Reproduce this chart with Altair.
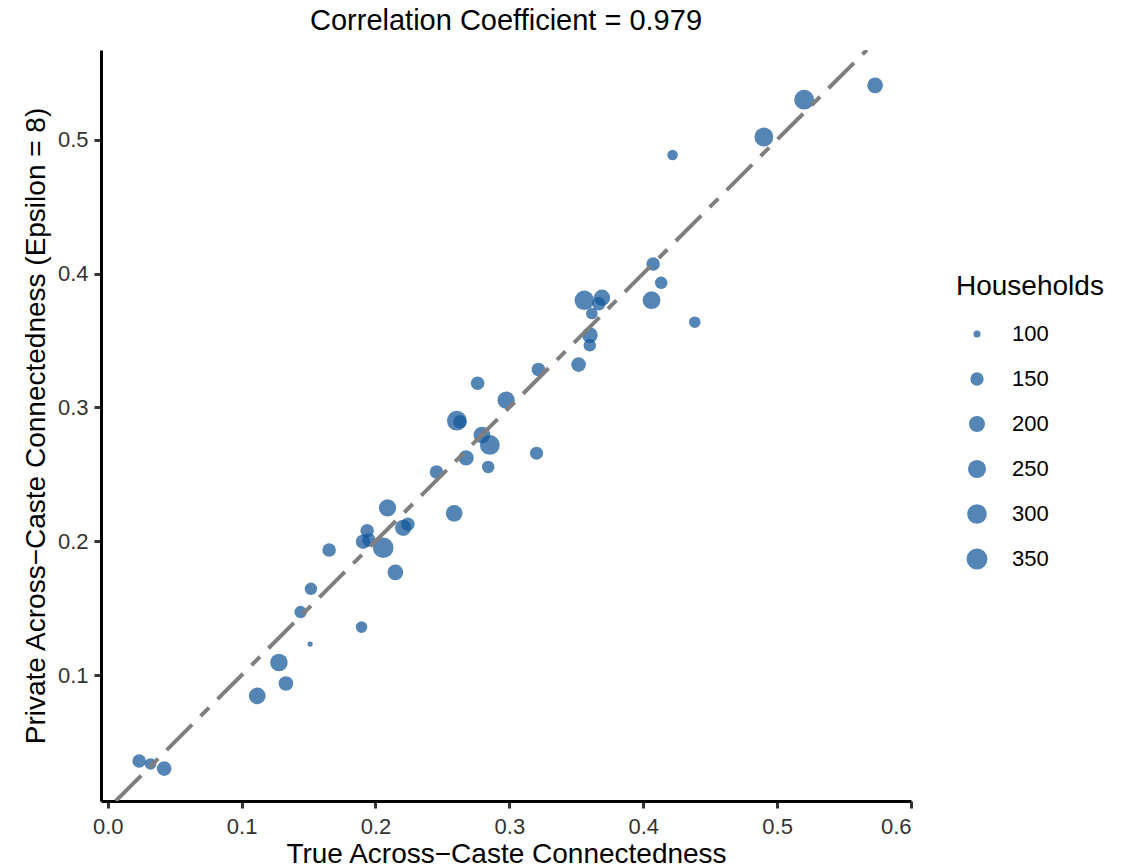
import altair as alt
import pandas as pd

# Village-level connectedness: true value vs. differentially private estimate
true_conn = [
    0.0235, 0.0320, 0.0422, 0.1117, 0.1331, 0.1279, 0.1512, 0.1896, 0.1441, 0.1518,
    0.1654, 0.1908, 0.1938, 0.1951, 0.2058, 0.2149, 0.2090, 0.2207, 0.2242, 0.2588,
    0.2456, 0.2677, 0.2842, 0.2795, 0.2854, 0.2608, 0.2630, 0.2763, 0.2976, 0.3203,
    0.3217, 0.3517, 0.3601, 0.3601, 0.3560, 0.3616, 0.3668, 0.3692, 0.4074, 0.4134,
    0.4062, 0.4385, 0.4219, 0.4901, 0.5202, 0.5732,
]
private_conn = [
    0.0359, 0.0337, 0.0302, 0.0845, 0.0938, 0.1095, 0.1232, 0.1359, 0.1471, 0.1645,
    0.1935, 0.1997, 0.2079, 0.2009, 0.1952, 0.1768, 0.2249, 0.2101, 0.2127, 0.2209,
    0.2518, 0.2624, 0.2555, 0.2794, 0.2720, 0.2901, 0.2893, 0.3181, 0.3054, 0.2658,
    0.3284, 0.3320, 0.3540, 0.3464, 0.3800, 0.3701, 0.3774, 0.3820, 0.4071, 0.3931,
    0.3801, 0.3637, 0.4886, 0.5020, 0.5299, 0.5406,
]
households = [
    155, 133, 174, 217, 174, 235, 97, 133, 142, 142,
    155, 174, 155, 155, 340, 195, 229, 205, 155, 217,
    155, 185, 142, 217, 311, 311, 155, 155, 229, 148,
    155, 174, 194, 142, 300, 133, 155, 205, 155, 142,
    242, 133, 124, 274, 311, 194,
]
legend_values = [100, 150, 200, 250, 300, 350]
x_ticks = [0.0, 0.1, 0.2, 0.3, 0.4, 0.5, 0.6]
y_ticks = [0.1, 0.2, 0.3, 0.4, 0.5]

# plotted ranges of the two axes
x_range = [-0.005, 0.6]
y_range = [0.006, 0.567]
# y = x reference line, spanning the shared part of both ranges
identity_ends = [max(x_range[0], y_range[0]), min(x_range[1], y_range[1])]

points = pd.DataFrame({"true": true_conn, "private": private_conn, "households": households})
diagonal = pd.DataFrame({"true": identity_ends, "private": identity_ends})

FONT = "Liberation Sans"
POINT_COLOR = "#14589a"
X_TITLE = "True Across\u2212Caste Connectedness"
Y_TITLE = "Private Across\u2212Caste Connectedness (Epsilon = 8)"

x_scale = alt.Scale(domain=x_range, nice=False, zero=False)
y_scale = alt.Scale(domain=y_range, nice=False, zero=False)

x_axis = alt.Axis(values=x_ticks, format=".1f", tickSize=7, labelPadding=8, titlePadding=3)
y_axis = alt.Axis(values=y_ticks, format=".1f", tickSize=7, labelPadding=6, titlePadding=7)

# sqrt-like bubble scale (symbol size = squared diameter)
size_scale = alt.Scale(
    domain=[97, 100, 150, 200, 250, 300, 350, 400],
    range=[27, 50, 176, 256, 327, 383, 437, 496],
    zero=False,
    nice=False,
)

scatter = alt.Chart(points).mark_circle(color=POINT_COLOR, opacity=0.73).encode(
    x=alt.X("true:Q", scale=x_scale, axis=x_axis, title=X_TITLE),
    y=alt.Y("private:Q", scale=y_scale, axis=y_axis, title=Y_TITLE),
    size=alt.Size(
        "households:Q",
        scale=size_scale,
        legend=alt.Legend(
            title="Households",
            values=legend_values,
            orient="none",
            legendX=855,
            legendY=223,
            padding=0,
            titlePadding=22,
            rowPadding=23,
            symbolOffset=10,
            labelOffset=24,
            symbolFillColor=POINT_COLOR,
            symbolOpacity=0.73,
            symbolStrokeWidth=0,
        ),
    ),
)

identity = alt.Chart(diagonal).mark_line(
    color="#7f7f7f", strokeWidth=4, strokeDash=[36, 12, 12, 12], clip=True
).encode(
    x=alt.X("true:Q", scale=x_scale, title=X_TITLE),
    y=alt.Y("private:Q", scale=y_scale, title=Y_TITLE),
)

chart = (
    alt.layer(scatter, identity)
    .properties(
        width=810,
        height=751,
        title=alt.TitleParams(
            "Correlation Coefficient = 0.979",
            anchor="middle",
            baseline="alphabetic",
            offset=-9,
            fontSize=29,
            font=FONT,
            fontWeight="normal",
            color="#000000",
        ),
        autosize=alt.AutoSizeParams(type="none"),
        padding={"left": 101, "top": 50, "right": 221, "bottom": 67},
        background="white",
    )
    .configure_view(stroke=None)
    .configure_axis(
        grid=False,
        domainColor="#000000",
        domainWidth=3,
        tickColor="#333333",
        tickWidth=3,
        labelFont=FONT,
        labelFontSize=22,
        labelColor="#333333",
        titleFont=FONT,
        titleFontSize=28,
        titleFontWeight="normal",
        titleColor="#000000",
    )
    .configure_legend(
        titleFont=FONT,
        titleFontSize=28,
        titleFontWeight="normal",
        titleColor="#000000",
        labelFont=FONT,
        labelFontSize=22,
        labelColor="#000000",
    )
)

chart.save("out.html", embed_options={"renderer": "svg", "actions": False})
